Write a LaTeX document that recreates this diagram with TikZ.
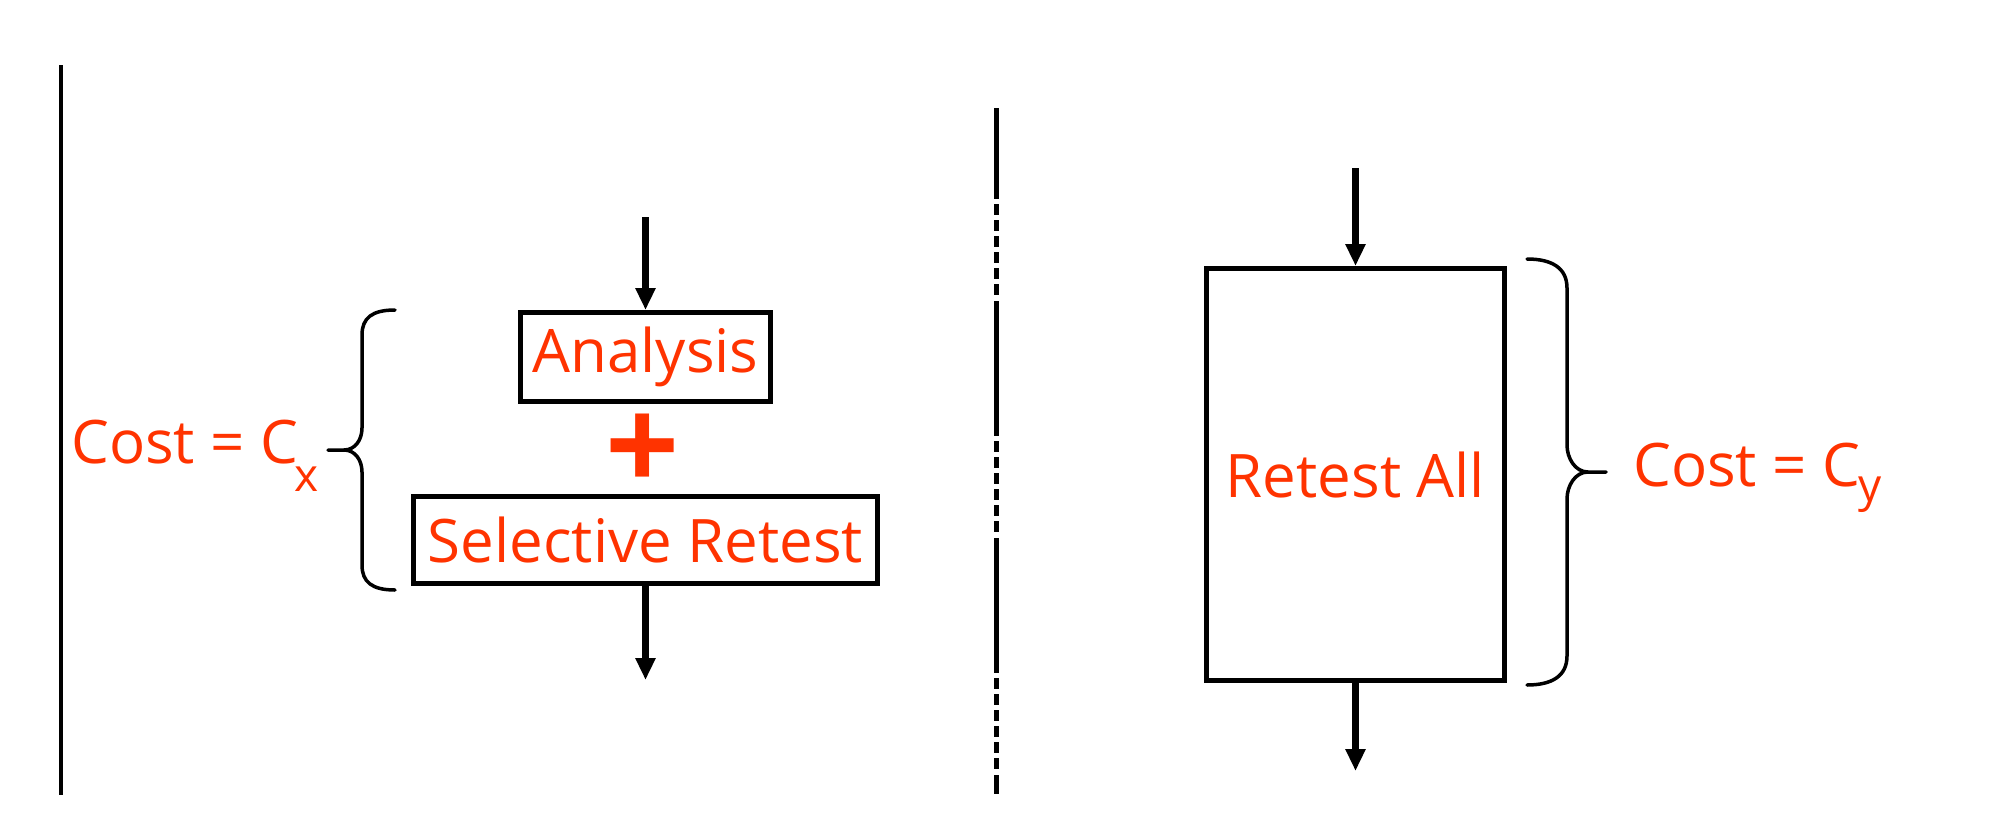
\documentclass[tikz,border=0pt]{standalone}
\usepackage{fontspec}
\setmainfont{Open Sans}
\usetikzlibrary{arrows.meta}
\definecolor{txtred}{HTML}{FF3300}
\begin{document}
\begin{tikzpicture}[x=1bp,y=-1bp,
  boxnode/.style={draw=black, line width=5bp, inner sep=0pt, text=txtred,
    font=\fontsize{60bp}{72bp}\selectfont},
  flow/.style={line width=6.5bp, -{Triangle[length=22bp,width=19bp]}},
  bracepath/.style={line width=3.5bp, line cap=round, line join=round},
  costlabel/.style={text=txtred, inner sep=0pt, anchor=base west,
    font=\fontsize{60bp}{72bp}\selectfont},
  plusmark/.style={text=txtred, inner sep=0pt,
    font=\fontsize{130bp}{130bp}\selectfont\bfseries},
  solidsep/.style={line width=4.5bp},
  mixedsep/.style={line width=5bp, dash pattern=on 135bp off 5bp on 11bp off 5bp on 11bp off 5bp on 11bp off 5bp on 11bp off 5bp on 11bp off 5bp on 11bp off 6bp, dash phase=44bp}]
\fill[white] (0,0) rectangle (1998,826);
\useasboundingbox (0,0) rectangle (1998,826);

% separators
\coordinate (sepAtop) at (61,65);
\coordinate (sepAbot) at (61,795);
\coordinate (sepBtop) at (996,108);
\coordinate (sepBbot) at (996,794);
\draw[solidsep] (sepAtop) -- (sepAbot);
\draw[mixedsep] (sepBtop) -- (sepBbot);

% left side
\node[boxnode, minimum width=250bp, minimum height=89bp] (ana) at (645.5,357) {Analysis};
\node[boxnode, minimum width=464bp, minimum height=87bp] (sel) at (645.5,540) {Selective Retest};
\node[plusmark] (plus) at (643,453) {+};
\coordinate (inL) at (645.5,217);
\coordinate (outL) at (645.5,680);
\draw[flow] (inL) -- (ana.north);
\draw[flow] (sel.south) -- (outL);

\draw[bracepath] (395,310) .. controls (372,310) and (362,318) .. (362,335) -- (362,428)
  .. controls (362,440) and (355,450) .. (344,450) -- (328,450)
  -- (344,450) .. controls (355,450) and (362,460) .. (362,472) -- (362,565)
  .. controls (362,582) and (372,590) .. (395,590);
\node[costlabel] (costx) at (71,463) {Cost = C\kern-4bp\raisebox{-28bp}{\fontsize{46bp}{46bp}\selectfont x}};

% right side
\node[boxnode, minimum width=298bp, minimum height=412bp] (ret) at (1355.5,474.5) {Retest All};
\coordinate (inR) at (1355.5,168);
\coordinate (outR) at (1355.5,771);
\draw[flow] (inR) -- (ret.north);
\draw[flow] (ret.south) -- (outR);

\draw[bracepath] (1527,259) .. controls (1552,259) and (1567,268) .. (1567,288) -- (1567,445)
  .. controls (1567,458) and (1575,472) .. (1588,472) -- (1606,472)
  -- (1588,472) .. controls (1575,472) and (1567,486) .. (1567,499) -- (1567,656)
  .. controls (1567,676) and (1552,685) .. (1527,685);
\node[costlabel] (costy) at (1633,486) {Cost = C\kern-2bp\raisebox{-15bp}{\fontsize{46bp}{46bp}\selectfont y}};
\end{tikzpicture}
\end{document}
